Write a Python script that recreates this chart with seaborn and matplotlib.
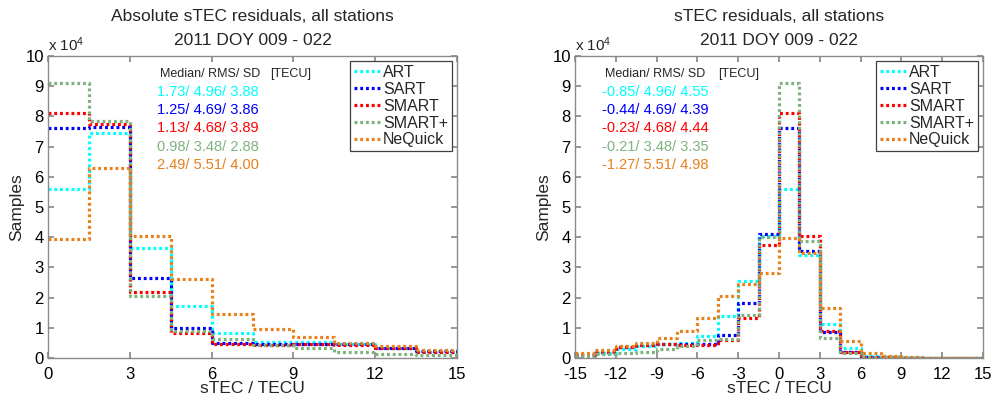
import numpy as np
import pandas as pd
import matplotlib
matplotlib.use("Agg")
import matplotlib.pyplot as plt
from matplotlib.ticker import FuncFormatter
import seaborn as sns

# ---------------- data (samples) ----------------
models = ["ART", "SART", "SMART", "SMART+", "NeQuick"]
colors = ["#00FFFF", "#0000FF", "#FF0000", "#7DB27D", "#E8801C"]

abs_edges = [0, 1.5, 3, 4.5, 6, 7.5, 9, 10.5, 12, 13.5, 15]
abs_art     = [56000, 74500, 36500, 17200, 8200, 5200, 5200, 4500, 3400, 2100]
abs_sart    = [76200, 76500, 26600,  9800, 5000, 4700, 4700, 4500, 3300, 2200]
abs_smart   = [81000, 77500, 22000,  8400, 4800, 4400, 4500, 4400, 3400, 2000]
abs_smartp  = [91000, 78500, 20500,  8800, 6300, 4400, 3200, 1900, 1300, 1100]
abs_nequick = [39500, 63000, 40500, 26000, 14700, 9700, 6900, 5000, 4100, 2600]

res_edges = [-15, -13.5, -12, -10.5, -9, -7.5, -6, -4.5, -3, -1.5, 0,
             1.5, 3, 4.5, 6, 7.5, 9, 10.5, 12, 13.5, 15]
res_art     = [1200, 1800, 3000, 4000, 4500, 5000, 7400, 14000, 25400, 40500,
               56000, 34000, 11400, 3400, 600, 400, 200, 100, 100, 100]
res_sart    = [1000, 2000, 3500, 4200, 4500, 4500, 4500, 7700, 18200, 41000,
               76200, 35500, 8500, 2100, 400, 200, 100, 100, 100, 100]
res_smart   = [1000, 2100, 3600, 4300, 4600, 4200, 4200, 6000, 13400, 37400,
               81000, 40300, 9000, 2100, 400, 200, 100, 100, 100, 100]
res_smartp  = [600, 1400, 1500, 1900, 3000, 4100, 5800, 6300, 14200, 40000,
               91000, 38700, 6600, 1600, 300, 200, 100, 100, 100, 100]
res_nequick = [1800, 2500, 4000, 4900, 6500, 9000, 13200, 20400, 24600, 28200,
               39700, 34800, 16500, 5500, 1500, 500, 200, 100, 100, 100]

abs_stats = ["1.73/ 4.96/ 3.88", "1.25/ 4.69/ 3.86", "1.13/ 4.68/ 3.89",
             "0.98/ 3.48/ 2.88", "2.49/ 5.51/ 4.00"]
res_stats = ["-0.85/ 4.96/ 4.55", "-0.44/ 4.69/ 4.39", "-0.23/ 4.68/ 4.44",
             "-0.21/ 3.48/ 3.35", "-1.27/ 5.51/ 4.98"]

abs_xticks = [0, 3, 6, 9, 12, 15]
res_xticks = [-15, -12, -9, -6, -3, 0, 3, 6, 9, 12, 15]
y_ticks = [0, 1, 2, 3, 4, 5, 6, 7, 8, 9, 10]

title_abs = "Absolute sTEC residuals, all stations\n2011 DOY 009 - 022"
title_res = "sTEC residuals, all stations\n2011 DOY 009 - 022"

# ---------------- style ----------------
sns.set_theme(style="ticks")
plt.rcParams["font.family"] = ["Liberation Sans", "DejaVu Sans"]
plt.rcParams["mathtext.default"] = "regular"
plt.rcParams["axes.unicode_minus"] = False

fig = plt.figure(figsize=(9.92, 3.97), dpi=100)
axL = fig.add_axes([48 / 992, 1 - 358 / 397, 409 / 992, 302 / 397])
axR = fig.add_axes([575 / 992, 1 - 358 / 397, 408 / 992, 302 / 397])

abs_series = [abs_art, abs_sart, abs_smart, abs_smartp, abs_nequick]
res_series = [res_art, res_sart, res_smart, res_smartp, res_nequick]

spine_col = "#8a8a8a"


def draw(ax, edges, series, stats, xticks, title, stat_x, tecu_x):
    e = np.asarray(edges, dtype=float)
    centers = (e[:-1] + e[1:]) / 2
    frames = []
    for name, vals in zip(models, series):
        frames.append(pd.DataFrame({"x": centers, "w": vals, "model": name}))
    df = pd.concat(frames, ignore_index=True)
    for name, col in zip(models, colors):
        sub = df[df["model"] == name].reset_index(drop=True)
        sns.histplot(data=sub, x="x", weights="w", bins=list(edges),
                     element="step", fill=False, color=col, linewidth=2.3,
                     linestyle=(0, (0.9, 0.9)), label=name, ax=ax)
    ax.set_xlim(edges[0], edges[-1])
    ax.set_ylim(0, 100000)
    ax.set_xticks(xticks)
    ax.set_yticks([t * 1e4 for t in y_ticks])
    ax.yaxis.set_major_formatter(FuncFormatter(lambda v, p: f"{v / 1e4:g}"))
    ax.tick_params(direction="in", top=True, right=True, length=4,
                   color=spine_col, labelsize=12, pad=3, labelcolor="black")
    ax.tick_params(axis="x", pad=6.5)
    for s in ax.spines.values():
        s.set_color(spine_col)
        s.set_linewidth(1.0)
    ax.set_xlabel("sTEC / TECU", fontsize=12.5, labelpad=-1)
    ax.set_ylabel("Samples", fontsize=12.5, labelpad=1)
    ax.set_title(title, fontsize=12.5, linespacing=1.7, pad=8)
    ax.text(0.0, 1.008, "x 10$^{4}$", transform=ax.transAxes, fontsize=11,
            ha="left", va="bottom")
    ax.text(stat_x + 0.007, 0.940, "Median/ RMS/ SD", transform=ax.transAxes,
            fontsize=9, ha="left", va="center")
    ax.text(tecu_x, 0.940, "[TECU]", transform=ax.transAxes,
            fontsize=9, ha="left", va="center")
    for i, (s, col) in enumerate(zip(stats, colors)):
        ax.text(stat_x, 0.881 - i * 0.0605, s, transform=ax.transAxes,
                fontsize=10.5, ha="left", va="center", color=col)
    leg = ax.legend(loc="upper right", fontsize=11.5, handlelength=1.6,
                    handletextpad=0.2, labelspacing=0.12, borderpad=0.25,
                    borderaxespad=0.3, fancybox=False, framealpha=1)
    leg.get_frame().set_edgecolor("#404040")
    leg.get_frame().set_linewidth(0.9)


draw(axL, abs_edges, abs_series, abs_stats, abs_xticks, title_abs, 0.267, 0.543)
draw(axR, res_edges, res_series, res_stats, res_xticks, title_res, 0.066, 0.350)

fig.savefig("out.png", dpi=100)
